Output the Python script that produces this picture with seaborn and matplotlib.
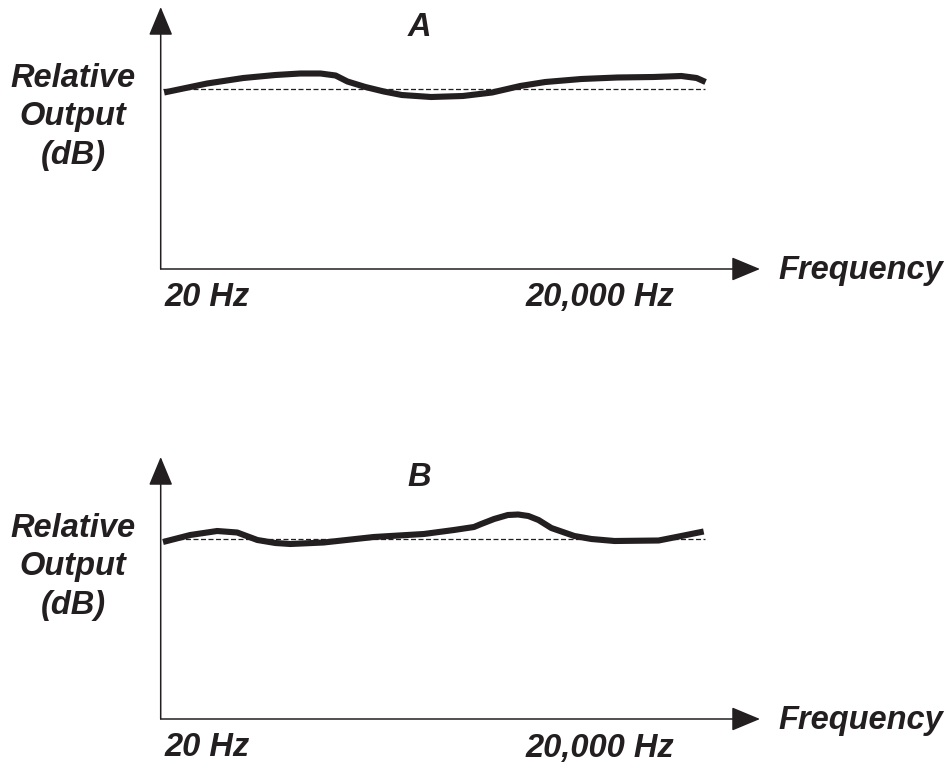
import matplotlib
matplotlib.use('Agg')
import matplotlib.pyplot as plt
import seaborn as sns
import numpy as np
import pandas as pd

# response curves (frequency in Hz, level relative to flat in dB)
freq_a = [20.3, 35.1, 55.7, 83.8, 115, 149, 180.6, 210, 264, 334, 420, 610, 914, 1328,
          1900, 2618, 4144, 6560, 10400, 14830, 18020, 20200]
db_a = [-0.35, 0.55, 1.1, 1.4, 1.55, 1.55, 1.35, 0.75, 0.2, -0.25, -0.6, -0.8, -0.7, -0.35,
        0.3, 0.7, 1.0, 1.15, 1.2, 1.3, 1.1, 0.7]

freq_b = [20, 28.3, 39.9, 51.5, 66.6, 83.8, 101.6, 155, 294, 556, 817, 1054, 1156, 1362,
          1624, 1852, 2110, 2400, 2826, 3792, 4712, 6325, 11100, 14830, 19720]
db_b = [-0.3, 0.4, 0.8, 0.65, -0.1, -0.4, -0.5, -0.35, 0.2, 0.5, 0.9, 1.2, 1.5, 2.0,
        2.4, 2.45, 2.3, 1.9, 1.1, 0.3, 0.0, -0.2, -0.15, 0.3, 0.75]

flat_freq = [20, 20000]
flat_db = [0, 0]

panels = ['A', 'B']
low_label = '20 Hz'
high_label = '20,000 Hz'

ink = '#231f20'
sns.set_style('white')
plt.rcParams['font.family'] = ['Liberation Sans', 'DejaVu Sans']

W, H = 953, 768
fig = plt.figure(figsize=(W / 100, H / 100), dpi=100)

def fx(px):
    return px / W

def fy(py):
    return 1 - py / H

#each panel: axes box in pixels (left, top, right, bottom)
boxes = [(160.7, 7, 760, 269), (160.7, 457, 760, 719)]
curves = [(freq_a, db_a), (freq_b, db_b)]

for name, (l, t, r, b), (fq, db) in zip(panels, boxes, curves):
    ax = fig.add_axes([fx(l), fy(b), (r - l) / W, (b - t) / H])
    df = pd.DataFrame({'freq': fq, 'db': db})
    sns.lineplot(x=flat_freq, y=flat_db, ax=ax, color=ink, lw=0.9, linestyle=(0, (4, 2)))
    sns.lineplot(data=df, x='freq', y='db', ax=ax, color=ink, lw=4.4, sort=False)
    for ln in ax.lines:
        ln.set_solid_capstyle('butt')
        ln.set_solid_joinstyle('round')
    ax.set_xscale('log')
    ax.set_xlim(19.42, 40430)
    ax.set_ylim(-18, 8.2)
    ax.set_xticks([])
    ax.set_yticks([])
    ax.set_xlabel('')
    ax.set_ylabel('')
    for s in ax.spines.values():
        s.set_visible(False)
    ax.patch.set_alpha(0)
    # arrowed axes
    arrow = dict(arrowstyle='-|>,head_length=0.6,head_width=0.25', color=ink, lw=1.1,
                 mutation_scale=30, shrinkA=0, shrinkB=0)
    ax.annotate('', xy=(1, 0), xytext=(0, 0), xycoords='axes fraction', arrowprops=arrow,
                annotation_clip=False)
    ax.annotate('', xy=(0, 1), xytext=(0, 0), xycoords='axes fraction', arrowprops=arrow,
                annotation_clip=False)

    txt = dict(fontsize=23.5, fontweight='bold', fontstyle='italic', color=ink)
    fig.text(fx(419), fy(t + 21), name, ha='center', va='center', **txt)
    fig.text(fx(73), fy(t + 110), 'Relative\nOutput\n(dB)', ha='center', va='center',
             linespacing=1.3, **txt)
    fig.text(fx(778), fy(b + 2), 'Frequency', ha='left', va='center', **txt)
    fig.text(fx(165), fy(b + 29), low_label, ha='left', va='center', **txt)
    fig.text(fx(526), fy(b + 29), high_label, ha='left', va='center', **txt)

plt.savefig('out.png', dpi=100)
